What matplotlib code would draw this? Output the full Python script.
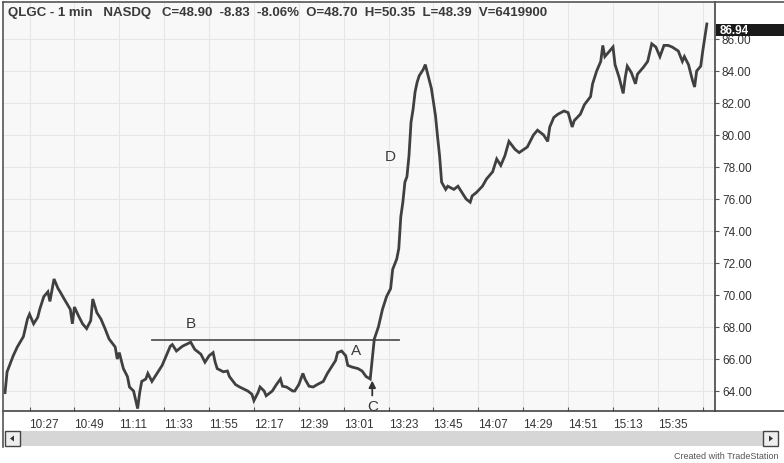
import matplotlib
matplotlib.use("Agg")
import matplotlib.pyplot as plt
from matplotlib.patches import Rectangle, Polygon

plt.rcParams["font.family"] = ["Liberation Sans", "DejaVu Sans"]

# ── Data: QLGC 1-min closes ──────────────────────────────────────────────────

TIMES = [
    "10:15", "10:16", "10:19", "10:21", "10:24", "10:26", "10:27", "10:29", "10:31", "10:32",
    "10:34", "10:36", "10:37", "10:39", "10:41", "10:42", "10:44", "10:47", "10:48", "10:49",
    "10:51", "10:53", "10:55", "10:57", "10:58", "11:00", "11:02", "11:04", "11:06", "11:09",
    "11:10", "11:11", "11:13", "11:15", "11:16", "11:18", "11:20", "11:21", "11:22", "11:24",
    "11:25", "11:27", "11:30", "11:32", "11:34", "11:36", "11:37", "11:39", "11:42", "11:46",
    "11:48", "11:51", "11:53", "11:55", "11:57", "11:58", "11:59", "12:02", "12:04", "12:05",
    "12:08", "12:10", "12:14", "12:16", "12:17", "12:19", "12:20", "12:22", "12:23", "12:26",
    "12:28", "12:30", "12:31", "12:33", "12:36", "12:37", "12:39", "12:41", "12:42", "12:44",
    "12:46", "12:48", "12:51", "12:53", "12:55", "12:57", "12:58", "13:00", "13:02", "13:03",
    "13:05", "13:08", "13:10", "13:12", "13:14", "13:15", "13:16", "13:18", "13:20", "13:22",
    "13:24", "13:25", "13:27", "13:28", "13:29", "13:30", "13:31", "13:32", "13:33", "13:34",
    "13:35", "13:36", "13:37", "13:38", "13:40", "13:41", "13:42", "13:44", "13:46", "13:47",
    "13:48", "13:49", "13:51", "13:52", "13:55", "13:57", "13:59", "14:01", "14:03", "14:04",
    "14:06", "14:09", "14:11", "14:14", "14:16", "14:18", "14:20", "14:22", "14:25", "14:27",
    "14:31", "14:34", "14:36", "14:39", "14:41", "14:42", "14:44", "14:46", "14:49", "14:51",
    "14:53", "14:54", "14:57", "14:59", "15:02", "15:03", "15:05", "15:07", "15:08", "15:09",
    "15:11", "15:13", "15:14", "15:16", "15:18", "15:19", "15:20", "15:22", "15:24", "15:25",
    "15:28", "15:30", "15:32", "15:34", "15:36", "15:38", "15:40", "15:42", "15:45", "15:47",
    "15:48", "15:50", "15:52", "15:53", "15:54", "15:56", "15:57", "15:59",
]

CLOSES = [
    63.90, 65.20, 66.20, 66.75, 67.40, 68.50, 68.80, 68.20, 68.60, 69.10,
    69.90, 70.20, 69.60, 71.00, 70.40, 70.20, 69.75, 69.10, 68.20, 69.25,
    68.70, 68.20, 67.90, 68.40, 69.75, 68.90, 68.50, 67.90, 67.25, 66.75,
    66.00, 66.40, 65.40, 64.90, 64.25, 64.00, 62.90, 63.90, 64.60, 64.75,
    65.10, 64.60, 65.20, 65.60, 66.20, 66.80, 66.90, 66.50, 66.80, 67.05,
    66.60, 66.30, 65.80, 66.20, 66.40, 65.80, 65.40, 65.20, 65.25, 64.90,
    64.40, 64.25, 64.00, 63.80, 63.40, 63.90, 64.25, 64.00, 63.70, 64.00,
    64.40, 64.75, 64.30, 64.25, 64.00, 64.00, 64.40, 65.10, 64.75, 64.30,
    64.25, 64.40, 64.60, 65.10, 65.50, 65.90, 66.40, 66.50, 66.20, 65.60,
    65.50, 65.40, 65.25, 64.90, 64.75, 66.00, 67.25, 68.00, 69.10, 69.90,
    70.40, 71.60, 72.25, 72.90, 74.90, 75.80, 77.05, 77.40, 78.70, 80.80,
    81.60, 82.70, 83.30, 83.70, 84.10, 84.40, 83.90, 82.90, 81.20, 79.90,
    78.70, 77.05, 76.60, 76.80, 76.60, 76.80, 76.40, 76.00, 75.80, 76.20,
    76.40, 76.80, 77.25, 77.70, 78.50, 78.10, 78.70, 79.60, 79.10, 78.90,
    79.25, 80.00, 80.30, 80.00, 79.60, 80.50, 81.10, 81.30, 81.50, 81.40,
    80.50, 80.90, 81.30, 81.90, 82.40, 83.20, 84.00, 84.60, 85.60, 84.90,
    85.20, 85.50, 84.40, 83.60, 82.60, 83.60, 84.30, 83.90, 83.20, 83.80,
    84.25, 84.60, 85.70, 85.50, 84.90, 85.60, 85.60, 85.50, 85.25, 84.60,
    84.90, 84.40, 83.40, 83.00, 84.00, 84.30, 85.25, 86.94,
]

TICK_TIMES  = ["10:27", "10:49", "11:11", "11:33", "11:55", "12:17", "12:39", "13:01",
               "13:23", "13:45", "14:07", "14:29", "14:51", "15:13", "15:35", "15:57"]
TICK_LABELS = TICK_TIMES[:-1] + [""]
PRICE_TICKS = [64, 66, 68, 70, 72, 74, 76, 78, 80, 82, 84, 86]

LAST_PRICE  = 86.94
B_LEVEL     = 67.2
B_START, B_END = "11:27", "13:28"

HEADER = ("QLGC - 1 min   NASDQ   C=48.90  -8.83  -8.06%  O=48.70  "
          "H=50.35  L=48.39  V=6419900")

# Annotations: letter, time, price
MARKS = [("B", "11:46", 68.25), ("A", "13:07", 66.55), ("D", "13:24", 78.7),
         ("C", "13:15", 63.05)]
ARROW_TIME = "13:15"
ARROW_FROM, ARROW_TO = 63.72, 64.65


def to_min(t):
    """Minutes since 10:15."""
    h, m = t.split(":")
    return (int(h) - 10) * 60 + int(m) - 15


W, H = 784, 464
fig = plt.figure(figsize=(W / 100, H / 100), dpi=100)
fig.patch.set_facecolor("white")

# ── Main price panel ──────────────────────────────────────────────────────────
L, R, T, B = 3, 715, 3, 412
ax = fig.add_axes([L / W, 1 - B / H, (R - L) / W, (B - T) / H])
ax.set_facecolor("#f8f8f8")

x = [to_min(t) for t in TIMES]
ax.plot(x, CLOSES, color="#404040", lw=2.0, solid_joinstyle="miter", zorder=3)

# B resistance line
ax.plot([to_min(B_START), to_min(B_END)], [B_LEVEL, B_LEVEL],
        color="#555555", lw=1.3, zorder=2)

for letter, t, p in MARKS:
    ax.text(to_min(t), p, letter, fontsize=11, color="#3a3a3a",
            ha="center", va="center", zorder=4)

ax.annotate("", xy=(to_min(ARROW_TIME), ARROW_TO), xytext=(to_min(ARROW_TIME), ARROW_FROM),
            arrowprops=dict(arrowstyle="-|>,head_length=0.5,head_width=0.25",
                            color="#333333", lw=1.3, mutation_scale=8,
                            shrinkA=0, shrinkB=0), zorder=4)

ax.set_xlim(-1, 348)
ax.set_ylim(62.75, 64 + (392 - T) / 16)

ax.set_xticks([to_min(t) for t in TICK_TIMES])
ax.set_xticklabels(TICK_LABELS, ha="left", fontsize=8.5, color="#333333")
ax.set_yticks(PRICE_TICKS)
ax.set_yticklabels([f"{p:.2f}" for p in PRICE_TICKS], fontsize=8.5, color="#333333")
ax.yaxis.tick_right()
ax.tick_params(axis="x", direction="in", length=3, pad=5, color="#555555")
ax.tick_params(axis="y", direction="out", length=3, pad=2, color="#555555")

ax.grid(True, color="#e6e6e6", lw=0.8)
ax.set_axisbelow(True)
for side in ["left", "top"]:
    ax.spines[side].set_visible(False)
ax.spines["right"].set_color("#444444")
ax.spines["bottom"].set_color("#444444")
ax.spines["right"].set_linewidth(1.2)
ax.spines["bottom"].set_linewidth(1.2)

ax.text(5 / (R - L), 1 - 10 / (B - T), HEADER, transform=ax.transAxes,
        fontsize=9.5, fontweight="bold", color="#3a3a3a", ha="left", va="center")

# ── Frame, last-price box, scroll bar and footer (pixel overlay) ─────────────
ov = fig.add_axes([0, 0, 1, 1], zorder=2)
ov.set_xlim(0, W)
ov.set_ylim(H, 0)
ov.axis("off")
ov.plot([L, W], [T, T], color="#555555", lw=1.2)
ov.plot([L, L], [T, 448], color="#555555", lw=1.2)
ov.plot([R, W], [B, B], color="#444444", lw=1.2)

ov.add_patch(Rectangle((716, 25), 68, 12, fc="#1a1a1a", ec="none"))
ov.text(720, 31, f"{LAST_PRICE:.2f}", fontsize=8.5, fontweight="bold",
        color="white", ha="left", va="center")

ov.add_patch(Rectangle((20, 432), 743, 15, fc="#d6d6d6", ec="none"))
for bx in (5, 763):
    ov.add_patch(Rectangle((bx, 432), 15, 15, fc="#eeeeee", ec="#444444", lw=1))
ov.add_patch(Polygon([(10, 439.5), (14, 436.5), (14, 442.5)], fc="#333333"))
ov.add_patch(Polygon([(773, 439.5), (769, 436.5), (769, 442.5)], fc="#333333"))

ov.text(779, 457, "Created with TradeStation", fontsize=6.5, color="#555555",
        ha="right", va="center")

plt.savefig("out.png", dpi=100)
plt.close()
